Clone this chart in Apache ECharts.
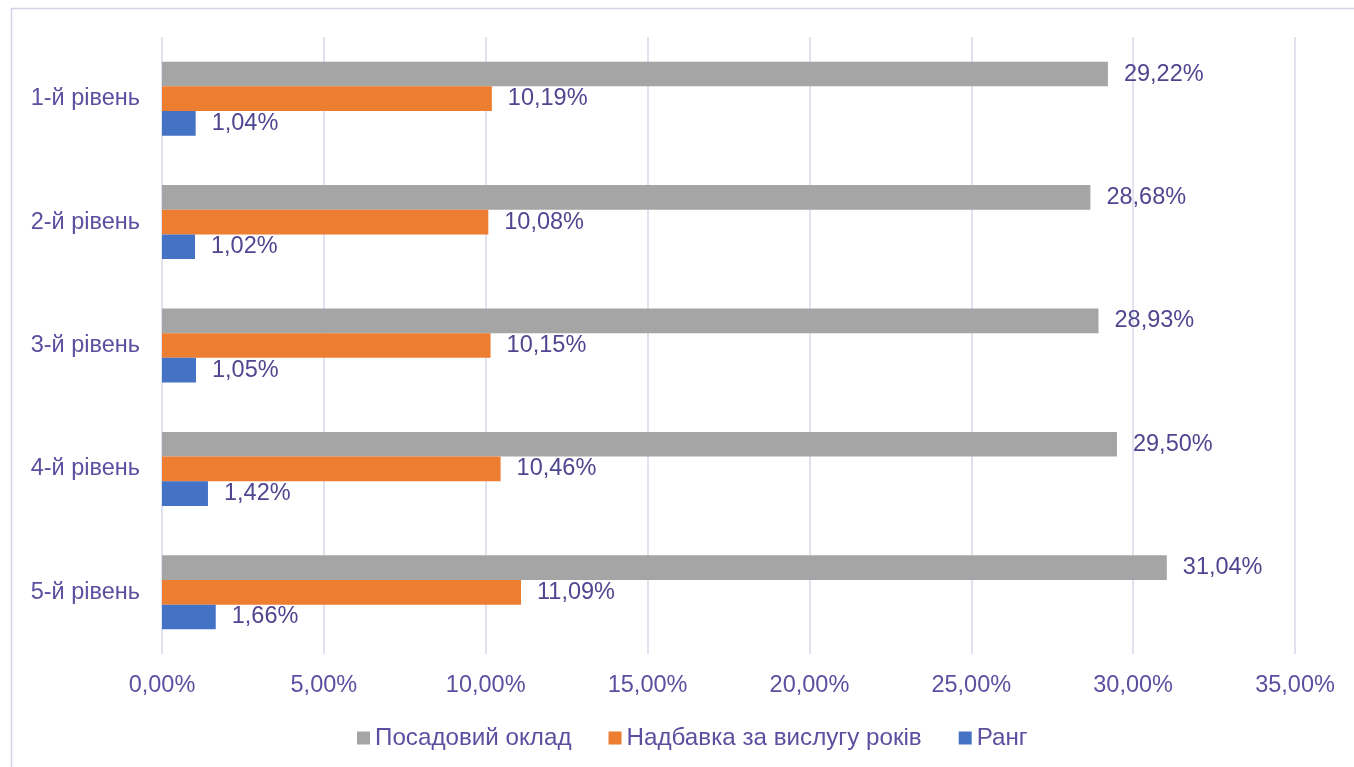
<!DOCTYPE html>
<html><head><meta charset="utf-8">
<script src="https://cdn.jsdelivr.net/npm/echarts@6/dist/echarts.min.js"></script>
<style>html,body{margin:0;padding:0;background:#fff}#c{width:1354px;height:767px}</style>
</head><body><div id="c"></div>
<script>
const categories = ['1-й рівень','2-й рівень','3-й рівень','4-й рівень','5-й рівень'];
const seriesNames = ['Посадовий оклад','Надбавка за вислугу років','Ранг'];
const salary = [29.22, 28.68, 28.93, 29.50, 31.04];
const seniority = [10.19, 10.08, 10.15, 10.46, 11.09];
const rank = [1.04, 1.02, 1.05, 1.42, 1.66];
const colors = ['#A5A5A5','#ED7D31','#4472C4'];
const textColor = '#5B4FA0';
const fmt = v => v.toFixed(2).replace('.', ',') + '%';
const font = '"Liberation Sans", Arial, sans-serif';
const fs = 23.5;
const chart = echarts.init(document.getElementById('c'), null, {renderer:'canvas'});
function mk(name, data, color){
  return {name, type:'bar', data, barGap:'0%', barCategoryGap:'40%',
    itemStyle:{color},
    label:{show:true, position:'right', distance:16, color:'#4F4690', fontFamily:font, fontSize:fs,
      padding:[5,0,0,0], formatter:p=>fmt(p.value)}};
}
chart.setOption({
  animation:false,
  textStyle:{fontFamily:font},
  graphic:[{type:'rect', shape:{x:11.5,y:8.5,width:1400,height:800}, style:{fill:'none', stroke:'#D3D3E8', lineWidth:1.5}, silent:true, z:-1}],
  grid:{left:162, right:59, top:37, bottom:113},
  xAxis:{type:'value', min:0, max:35, interval:5,
    axisLine:{show:false}, axisTick:{show:false},
    splitLine:{lineStyle:{color:'#D9D7EA', width:1.5}},
    axisLabel:{color:textColor, fontSize:fs, fontFamily:font, margin:20, formatter:v=>fmt(v)}},
  yAxis:{type:'category', data:categories, inverse:true,
    axisLine:{show:false}, axisTick:{show:false},
    axisLabel:{color:textColor, fontSize:fs, fontFamily:font, margin:22, padding:[5,0,0,0]}},
  legend:{bottom:12, left:352, itemWidth:13, itemHeight:13, itemGap:37, icon:'rect',
    textStyle:{color:textColor, fontSize:24.2, fontFamily:font, padding:[0,0,0,0]},
    data:seriesNames},
  series:[mk(seriesNames[0], salary, colors[0]), mk(seriesNames[1], seniority, colors[1]), mk(seriesNames[2], rank, colors[2])]
});
</script></body></html>
